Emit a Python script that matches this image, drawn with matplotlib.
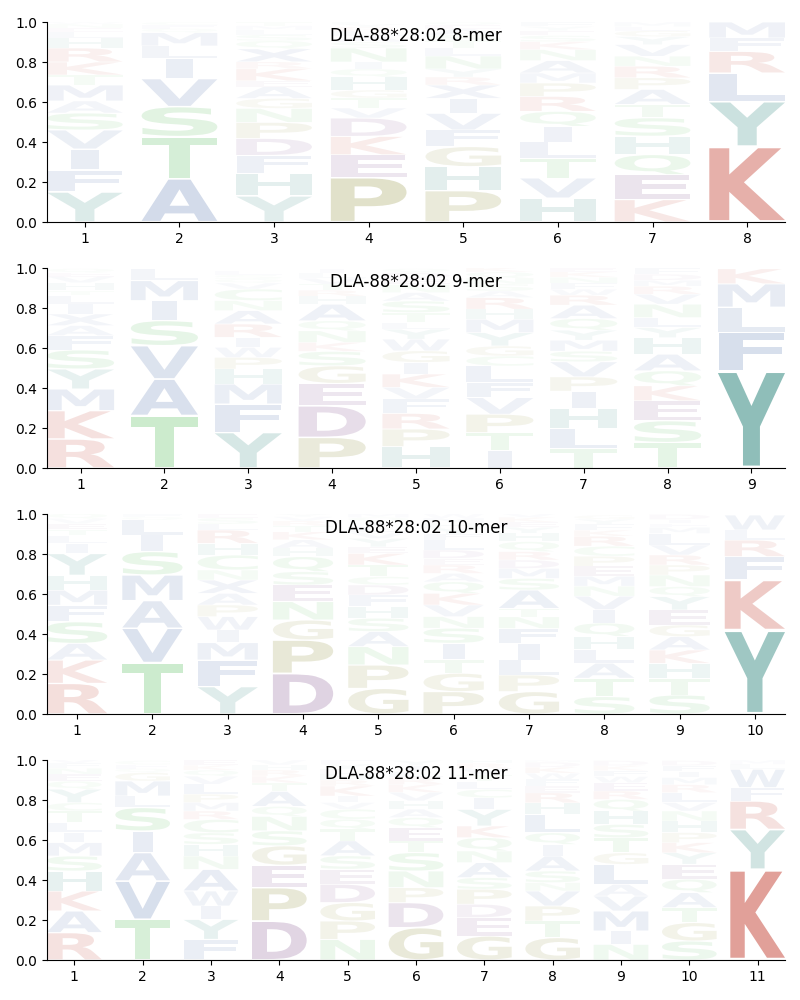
import matplotlib
matplotlib.use("Agg")
import matplotlib.pyplot as plt
from matplotlib.textpath import TextPath
from matplotlib.font_manager import FontProperties
from matplotlib.patches import PathPatch
from matplotlib.transforms import Affine2D

# ---------------- data (letters listed bottom -> top) ----------------
titles = ["DLA-88*28:02 8-mer", "DLA-88*28:02 9-mer",
          "DLA-88*28:02 10-mer", "DLA-88*28:02 11-mer"]

mer8_letters = ["YFIVSAMTKRHLENW", "ATSVILMQFC", "YHFDPNGAEKRXQSLMT",
                "PEKDVTGHQINSALRYF", "PHGFVIXRYNLTSAEQ", "HVTLIQRPMANKSEYF",
                "KEQHSTAPRNVYGLM", "KYLRFM"]
mer8_heights = [
    [.15, .11, .105, .095, .085, .06, .08, .05, .065, .07, .05, .03, .02, .02, .01],
    [.217, .21, .15, .14, .10, .063, .067, .02, .018, .015],
    [.13, .115, .088, .085, .08, .07, .05, .058, .03, .06, .035, .065, .04, .03, .025, .02, .019],
    [.223, .113, .092, .092, .05, .05, .04, .065, .04, .035, .07, .03, .03, .025, .02, .015, .01],
    [.157, .12, .1, .083, .083, .075, .067, .04, .04, .065, .04, .035, .03, .03, .02, .015],
    [.12, .1, .1, .08, .078, .075, .075, .067, .05, .062, .055, .04, .03, .025, .02, .023],
    [.112, .125, .1, .092, .092, .067, .075, .058, .058, .05, .058, .04, .03, .02, .023],
    [.378, .225, .142, .108, .067, .08],
]

mer9_letters = ["RKMYSFAXILTHVEQ", "TAVSIML", "YFMHPWIRANCVQSL",
                "PDEGSKNQAHRTVLI", "HPRFVKIGWYLTSANEDQ", "ITPVFLCGYMHRASNQK",
                "TLHIPVSMYQARWFNKE", "TSEKQAHYLNVRMDF", "YFLMK"]
mer9_heights = [
    [.145, .142, .108, .1, .095, .072, .05, .058, .05, .042, .025, .04, .03, .02, .02],
    [.262, .183, .167, .125, .1, .1, .058],
    [.178, .142, .1, .075, .058, .05, .05, .067, .067, .05, .058, .03, .02, .02, .02],
    [.153, .158, .112, .088, .072, .045, .058, .05, .083, .04, .03, .03, .03, .025, .02],
    [.107, .088, .078, .072, .058, .067, .058, .058, .058, .05, .033, .05, .058, .042, .04, .03, .03, .02],
    [.087, .09, .092, .083, .075, .083, .05, .05, .067, .067, .05, .058, .033, .035, .03, .03, .025],
    [.095, .102, .1, .087, .072, .075, .053, .055, .05, .058, .067, .05, .03, .03, .03, .027, .02],
    [.128, .108, .1, .075, .075, .083, .083, .05, .05, .067, .05, .04, .03, .03, .03],
    [.487, .192, .125, .117, .075],
]

mer10_letters = ["RKASFMHYILTEVQ", "TVAMSILQF", "YFMIWPAXNCHRLSE",
                 "DPGNESQHAKTRVY", "GPNASHFDCTKEYVLIQM", "PGTISNVKQAREDLFYHMW",
                 "GPLIFNTASMDRQHYEKV", "STALHQIVNMEPCRKFYG", "STHKAGEYQNPRVLMFID",
                 "YKFRLW"]
mer10_heights = [
    [.153, .117, .083, .108, .083, .075, .075, .108, .05, .04, .03, .03, .025, .025],
    [.257, .172, .138, .128, .117, .083, .075, .015, .015],
    [.137, .133, .087, .063, .067, .058, .058, .067, .05, .075, .058, .067, .03, .03, .02],
    [.203, .167, .1, .092, .083, .067, .075, .042, .042, .04, .03, .025, .02, .015],
    [.128, .117, .092, .075, .067, .058, .058, .05, .042, .058, .058, .033, .042, .03, .03, .025, .02, .02],
    [.112, .092, .067, .083, .075, .058, .058, .058, .058, .042, .042, .033, .042, .05, .03, .03, .025, .025, .02],
    [.112, .083, .075, .083, .075, .058, .042, .092, .058, .05, .042, .042, .05, .042, .03, .025, .025, .02],
    [.087, .092, .075, .067, .067, .067, .067, .067, .05, .05, .05, .05, .05, .05, .03, .03, .025, .02],
    [.095, .083, .075, .067, .067, .058, .075, .067, .05, .058, .05, .05, .05, .058, .03, .02, .02, .025],
    [.42, .25, .117, .083, .05, .075],
]

mer11_letters = ["RAKHSMILTCYQENFV", "TVAISLMGQFC", "FYIWANHSCRMPLVQKE",
                 "DPEGSNQATKRHV", "NPGDESATQCVIKRHLYF", "GDPNSTEQAHVKRLIY",
                 "GEDPSANQKYICLTVRH", "GTPVNSAIQLHREFWKDM", "NIMVALGTSHQREWFKD",
                 "SGTAQEYKPHNVLRMIFD", "KYRFWLM"]
mer11_heights = [
    [.137, .108, .1, .1, .075, .067, .05, .05, .058, .042, .067, .04, .035, .03, .025, .02],
    [.203, .192, .142, .108, .117, .058, .075, .042, .02, .02, .02],
    [.103, .1, .067, .075, .108, .067, .058, .058, .067, .042, .042, .042, .05, .04, .03, .025, .025],
    [.195, .167, .112, .097, .075, .072, .05, .075, .042, .035, .03, .025, .025],
    [.103, .092, .092, .092, .075, .067, .075, .058, .05, .05, .033, .033, .05, .03, .03, .025, .025, .02],
    [.162, .125, .075, .083, .092, .058, .067, .05, .042, .042, .042, .04, .035, .03, .03, .025],
    [.12, .092, .067, .075, .058, .075, .058, .067, .058, .083, .058, .042, .04, .035, .03, .025, .02],
    [.112, .083, .075, .075, .042, .058, .075, .058, .058, .092, .058, .05, .033, .035, .03, .03, .025, .01],
    [.078, .067, .1, .075, .058, .1, .058, .075, .067, .067, .058, .042, .042, .03, .03, .025, .025],
    [.095, .092, .075, .075, .067, .075, .058, .05, .05, .058, .05, .042, .05, .04, .035, .03, .03, .025],
    [.453, .2, .142, .067, .092, .025, .02],
]

panels = [(mer8_letters, mer8_heights), (mer9_letters, mer9_heights),
          (mer10_letters, mer10_heights), (mer11_letters, mer11_heights)]

# ---------------- style ----------------
RED = (0.74, 0.18, 0.12)
PURPLE = (0.40, 0.16, 0.46)
GREEN = (0.24, 0.70, 0.26)
OLIVE = (0.48, 0.48, 0.08)
BLUE = (0.20, 0.35, 0.62)
TEAL = (0.10, 0.48, 0.44)
COLORS = {}
for c in "KR":
    COLORS[c] = RED
for c in "DE":
    COLORS[c] = PURPLE
for c in "STNQC":
    COLORS[c] = GREEN
for c in "GP":
    COLORS[c] = OLIVE
for c in "AVLIMFWX":
    COLORS[c] = BLUE
for c in "YH":
    COLORS[c] = TEAL

fp = FontProperties(family="DejaVu Sans", weight="bold")
E_WIDTH = TextPath((0, 0), "E", size=1, prop=fp).get_extents().width


def draw_glyph(ax, ch, x, y0, h, color, alpha, width=0.8, vpad=0.05):
    path = TextPath((0, 0), ch, size=1, prop=fp)
    bb = path.get_extents()
    sx = width / max(bb.width, E_WIDTH)
    dw = bb.width * sx
    sy = h * (1 - vpad) / bb.height
    t = (Affine2D().translate(-bb.x0, -bb.y0).scale(sx, sy)
         .translate(x - dw / 2, y0 + h * vpad / 2))
    ax.add_patch(PathPatch(t.transform_path(path), facecolor=color,
                           edgecolor="none", alpha=alpha, lw=0))


fig = plt.figure(figsize=(8, 10), dpi=100)
left, width = 47 / 800, (785 - 47) / 800
bottoms = [0.778, 0.532, 0.286, 0.040]

for (letters, heights), title, b in zip(panels, titles, bottoms):
    ax = fig.add_axes([left, b, width, 0.2])
    n = len(letters)
    for i, (lets, hs) in enumerate(zip(letters, heights)):
        pos = i + 1
        y = 0.0
        for ch, h in zip(lets, hs):
            draw_glyph(ax, ch, pos, y, h, COLORS[ch], min(1.0, h))
            y += h
    ax.set_xlim(0.6, n + 0.4)
    ax.set_ylim(0, 1)
    ax.set_xticks(range(1, n + 1))
    ax.set_yticks([0.0, 0.2, 0.4, 0.6, 0.8, 1.0])
    ax.spines["top"].set_visible(False)
    ax.spines["right"].set_visible(False)
    ax.text(0.5, 0.93, title, transform=ax.transAxes, ha="center",
            va="center", fontsize=12)

fig.savefig("out.png", dpi=100)
